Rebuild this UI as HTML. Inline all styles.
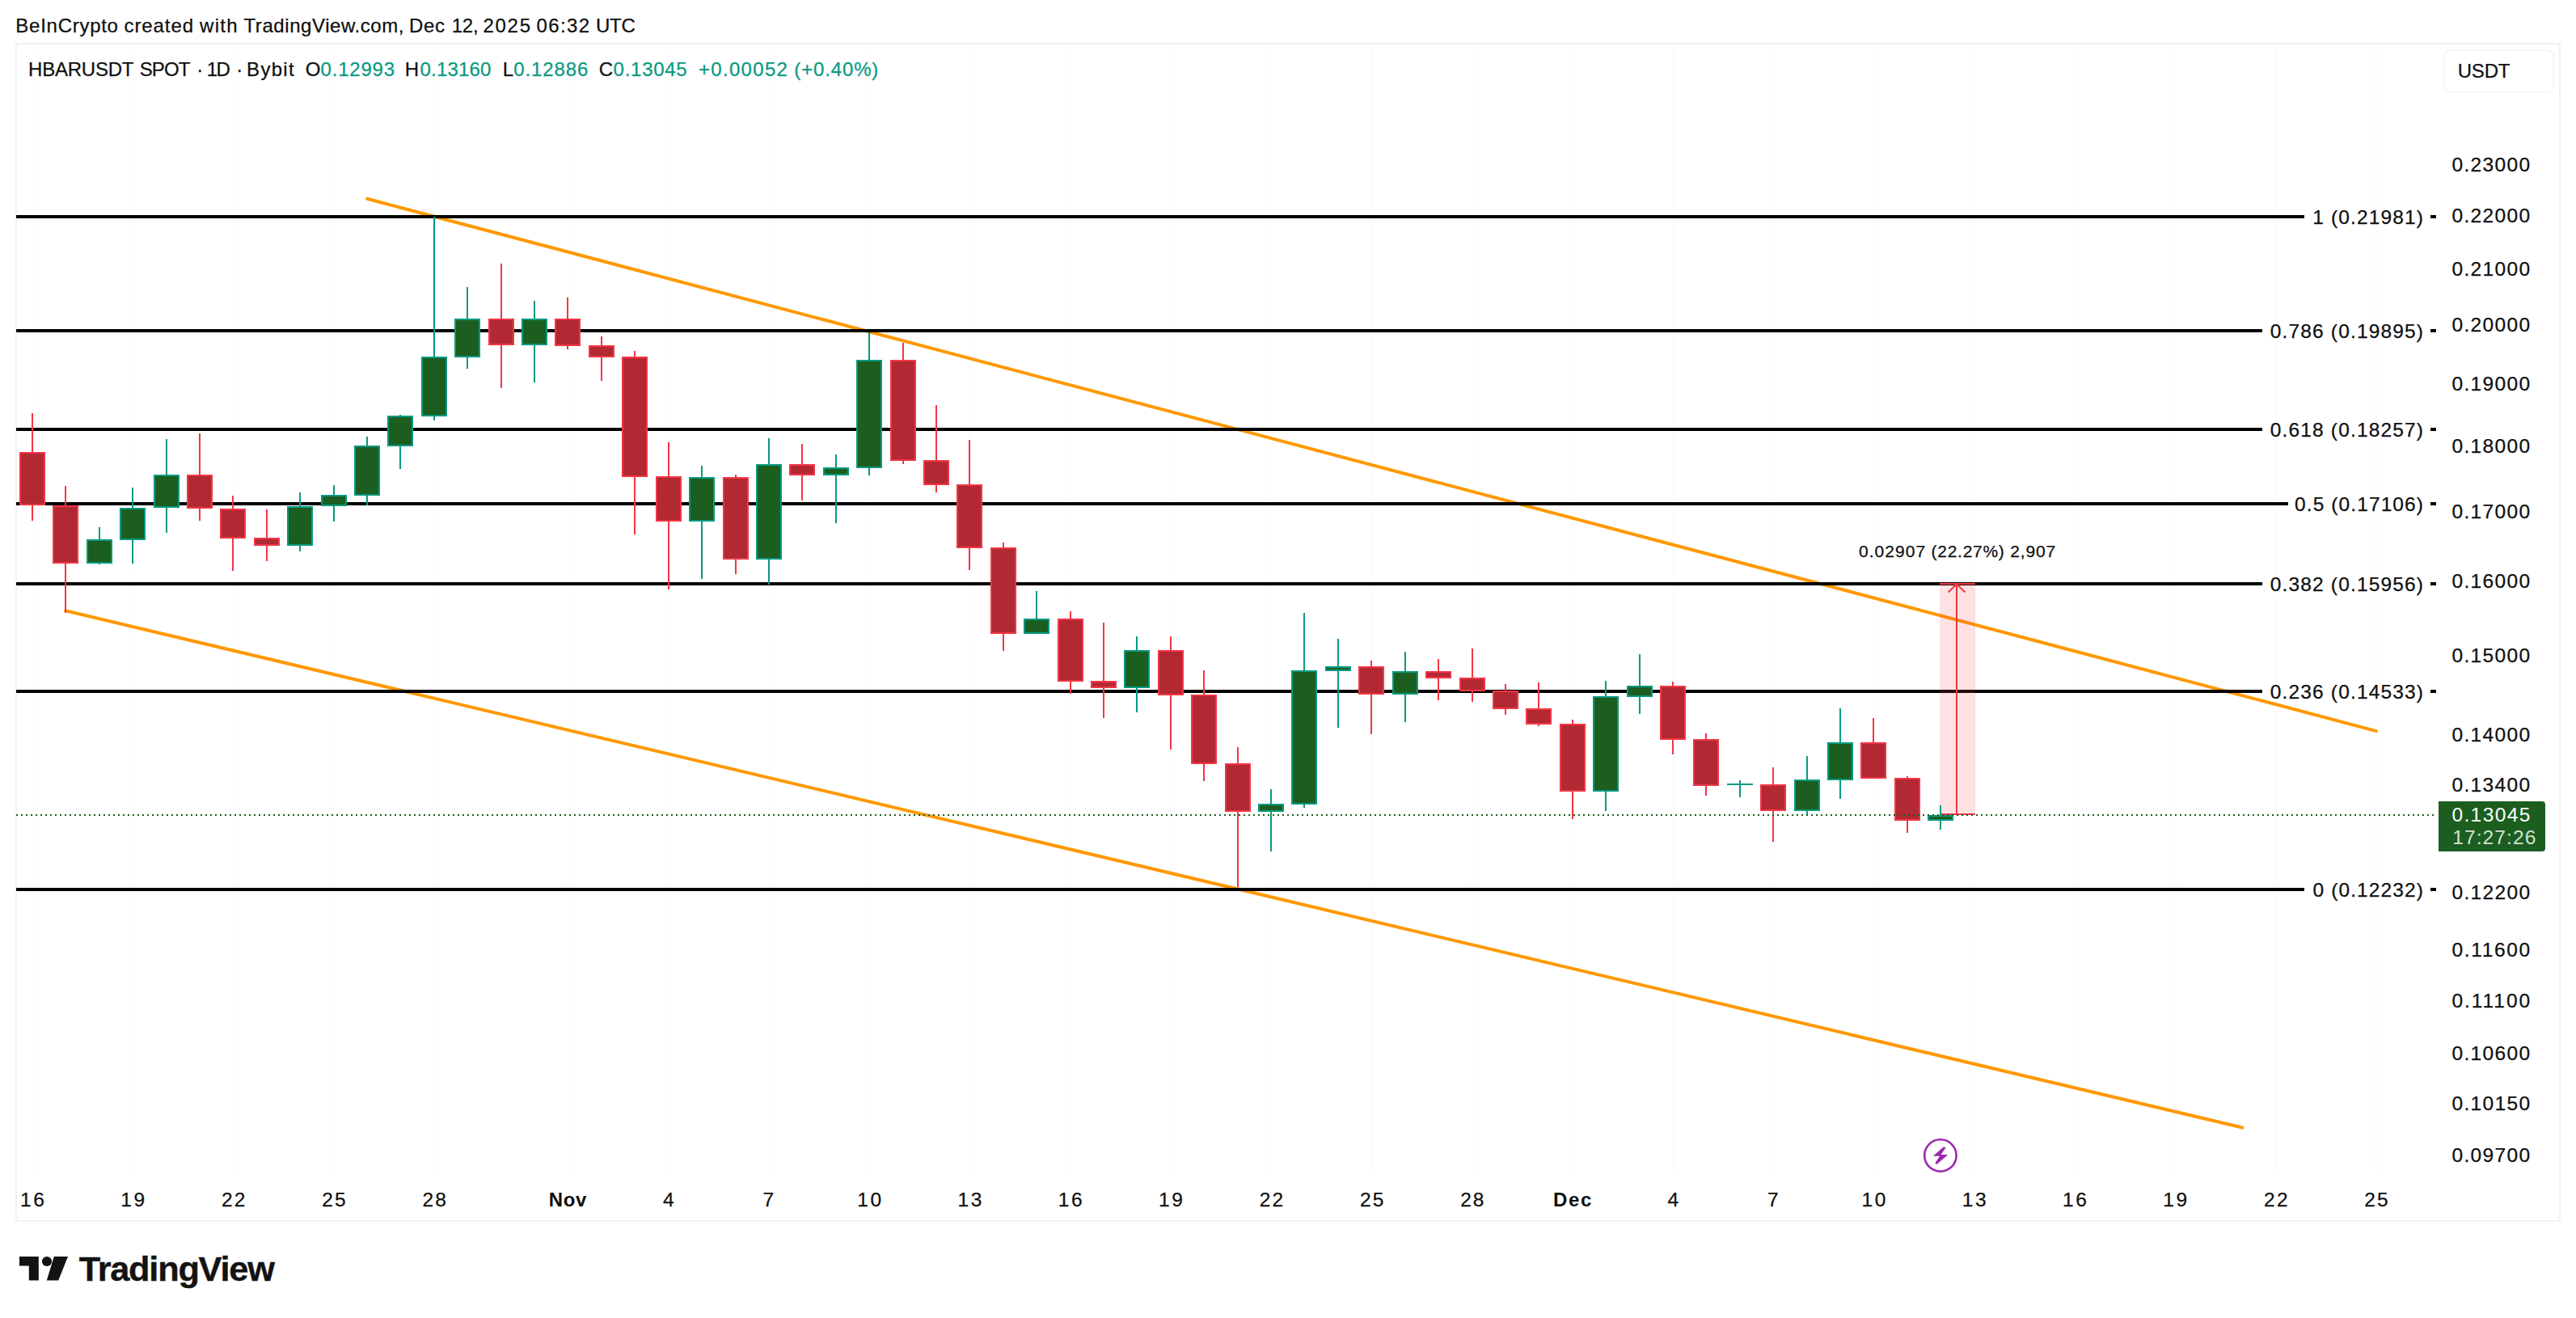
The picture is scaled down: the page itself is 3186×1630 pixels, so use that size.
<!DOCTYPE html>
<html lang="en"><head><meta charset="utf-8"><title>HBARUSDT chart</title>
<style>html,body{margin:0;padding:0;background:#fff}body{width:3186px;height:1630px;overflow:hidden}svg{display:block}text{white-space:pre}</style>
</head><body>
<svg width="3186" height="1630" viewBox="0 0 3186 1630" font-family='"Liberation Sans", sans-serif'>
<rect x="20" y="54" width="3146" height="1456" fill="#fff" stroke="#f2f2f2" stroke-width="2"/>
<rect x="39.4" y="55" width="2" height="1397" fill="#fcfcfc"/>
<rect x="163.6" y="55" width="2" height="1397" fill="#fcfcfc"/>
<rect x="287.9" y="55" width="2" height="1397" fill="#fcfcfc"/>
<rect x="412.1" y="55" width="2" height="1397" fill="#fcfcfc"/>
<rect x="536.3" y="55" width="2" height="1397" fill="#fcfcfc"/>
<rect x="702.0" y="55" width="2" height="1397" fill="#fcfcfc"/>
<rect x="826.2" y="55" width="2" height="1397" fill="#fcfcfc"/>
<rect x="950.4" y="55" width="2" height="1397" fill="#fcfcfc"/>
<rect x="1074.7" y="55" width="2" height="1397" fill="#fcfcfc"/>
<rect x="1198.9" y="55" width="2" height="1397" fill="#fcfcfc"/>
<rect x="1323.1" y="55" width="2" height="1397" fill="#fcfcfc"/>
<rect x="1447.3" y="55" width="2" height="1397" fill="#fcfcfc"/>
<rect x="1571.6" y="55" width="2" height="1397" fill="#fcfcfc"/>
<rect x="1695.8" y="55" width="2" height="1397" fill="#fcfcfc"/>
<rect x="1820.0" y="55" width="2" height="1397" fill="#fcfcfc"/>
<rect x="1944.3" y="55" width="2" height="1397" fill="#fcfcfc"/>
<rect x="2068.5" y="55" width="2" height="1397" fill="#fcfcfc"/>
<rect x="2192.7" y="55" width="2" height="1397" fill="#fcfcfc"/>
<rect x="2316.9" y="55" width="2" height="1397" fill="#fcfcfc"/>
<rect x="2441.2" y="55" width="2" height="1397" fill="#fcfcfc"/>
<rect x="2565.4" y="55" width="2" height="1397" fill="#fcfcfc"/>
<rect x="2689.6" y="55" width="2" height="1397" fill="#fcfcfc"/>
<rect x="2813.9" y="55" width="2" height="1397" fill="#fcfcfc"/>
<rect x="2938.1" y="55" width="2" height="1397" fill="#fcfcfc"/>
<line x1="454" y1="245.8" x2="2939" y2="904.1" stroke="#ff9800" stroke-width="4" stroke-linecap="round"/>
<line x1="81" y1="755.3" x2="2773.2" y2="1394.5" stroke="#ff9800" stroke-width="4" stroke-linecap="round"/>
<rect x="20" y="266" width="2830" height="4" fill="#000"/>
<rect x="3006" y="266" width="7" height="4" fill="#000"/>
<rect x="20" y="407" width="2778" height="4" fill="#000"/>
<rect x="3006" y="407" width="7" height="4" fill="#000"/>
<rect x="20" y="529" width="2778" height="4" fill="#000"/>
<rect x="3006" y="529" width="7" height="4" fill="#000"/>
<rect x="20" y="621" width="2810" height="4" fill="#000"/>
<rect x="3006" y="621" width="7" height="4" fill="#000"/>
<rect x="20" y="720" width="2778" height="4" fill="#000"/>
<rect x="3006" y="720" width="7" height="4" fill="#000"/>
<rect x="20" y="853" width="2778" height="4" fill="#000"/>
<rect x="3006" y="853" width="7" height="4" fill="#000"/>
<rect x="20" y="1098" width="2830" height="4" fill="#000"/>
<rect x="3006" y="1098" width="7" height="4" fill="#000"/>
<rect x="2399" y="722" width="44" height="285" fill="#f23645" fill-opacity="0.15"/>
<rect x="2399" y="721" width="44" height="2" fill="#f23645"/>
<rect x="2401" y="1006" width="42" height="2" fill="#f23645"/>
<rect x="2419" y="722" width="2" height="285" fill="#f23645"/>
<path d="M2409.5 732.5 L2420 722.5 L2430.5 732.5" fill="none" stroke="#f23645" stroke-width="2"/>
<rect x="39" y="511" width="2" height="133" fill="#f23645"/>
<rect x="25" y="560" width="30" height="64" fill="#b22833" stroke="#f23645" stroke-width="2"/>
<rect x="80" y="601" width="2" height="157" fill="#f23645"/>
<rect x="66" y="626" width="30" height="70" fill="#b22833" stroke="#f23645" stroke-width="2"/>
<rect x="122" y="652" width="2" height="46" fill="#089981"/>
<rect x="108" y="668" width="30" height="28" fill="#1b5e20" stroke="#089981" stroke-width="2"/>
<rect x="163" y="603" width="2" height="94" fill="#089981"/>
<rect x="149" y="629" width="30" height="38" fill="#1b5e20" stroke="#089981" stroke-width="2"/>
<rect x="205" y="543" width="2" height="116" fill="#089981"/>
<rect x="191" y="588" width="30" height="39" fill="#1b5e20" stroke="#089981" stroke-width="2"/>
<rect x="246" y="536" width="2" height="108" fill="#f23645"/>
<rect x="232" y="588" width="30" height="40" fill="#b22833" stroke="#f23645" stroke-width="2"/>
<rect x="287" y="613" width="2" height="93" fill="#f23645"/>
<rect x="273" y="630" width="30" height="35" fill="#b22833" stroke="#f23645" stroke-width="2"/>
<rect x="329" y="630" width="2" height="64" fill="#f23645"/>
<rect x="315" y="666" width="30" height="8" fill="#b22833" stroke="#f23645" stroke-width="2"/>
<rect x="370" y="609" width="2" height="73" fill="#089981"/>
<rect x="356" y="627" width="30" height="47" fill="#1b5e20" stroke="#089981" stroke-width="2"/>
<rect x="412" y="600" width="2" height="45" fill="#089981"/>
<rect x="398" y="613" width="30" height="12" fill="#1b5e20" stroke="#089981" stroke-width="2"/>
<rect x="453" y="540" width="2" height="85" fill="#089981"/>
<rect x="439" y="552" width="30" height="60" fill="#1b5e20" stroke="#089981" stroke-width="2"/>
<rect x="494" y="513" width="2" height="67" fill="#089981"/>
<rect x="480" y="515" width="30" height="36" fill="#1b5e20" stroke="#089981" stroke-width="2"/>
<rect x="536" y="268" width="2" height="252" fill="#089981"/>
<rect x="522" y="442" width="30" height="72" fill="#1b5e20" stroke="#089981" stroke-width="2"/>
<rect x="577" y="355" width="2" height="101" fill="#089981"/>
<rect x="563" y="395" width="30" height="46" fill="#1b5e20" stroke="#089981" stroke-width="2"/>
<rect x="619" y="326" width="2" height="154" fill="#f23645"/>
<rect x="605" y="395" width="30" height="31" fill="#b22833" stroke="#f23645" stroke-width="2"/>
<rect x="660" y="372" width="2" height="101" fill="#089981"/>
<rect x="646" y="395" width="30" height="31" fill="#1b5e20" stroke="#089981" stroke-width="2"/>
<rect x="701" y="368" width="2" height="64" fill="#f23645"/>
<rect x="687" y="395" width="30" height="32" fill="#b22833" stroke="#f23645" stroke-width="2"/>
<rect x="743" y="416" width="2" height="55" fill="#f23645"/>
<rect x="729" y="428" width="30" height="13" fill="#b22833" stroke="#f23645" stroke-width="2"/>
<rect x="784" y="434" width="2" height="227" fill="#f23645"/>
<rect x="770" y="442" width="30" height="147" fill="#b22833" stroke="#f23645" stroke-width="2"/>
<rect x="826" y="547" width="2" height="182" fill="#f23645"/>
<rect x="812" y="590" width="30" height="54" fill="#b22833" stroke="#f23645" stroke-width="2"/>
<rect x="867" y="576" width="2" height="140" fill="#089981"/>
<rect x="853" y="591" width="30" height="53" fill="#1b5e20" stroke="#089981" stroke-width="2"/>
<rect x="909" y="587" width="2" height="123" fill="#f23645"/>
<rect x="895" y="591" width="30" height="100" fill="#b22833" stroke="#f23645" stroke-width="2"/>
<rect x="950" y="542" width="2" height="181" fill="#089981"/>
<rect x="936" y="575" width="30" height="116" fill="#1b5e20" stroke="#089981" stroke-width="2"/>
<rect x="991" y="549" width="2" height="70" fill="#f23645"/>
<rect x="977" y="575" width="30" height="12" fill="#b22833" stroke="#f23645" stroke-width="2"/>
<rect x="1033" y="562" width="2" height="85" fill="#089981"/>
<rect x="1019" y="579" width="30" height="8" fill="#1b5e20" stroke="#089981" stroke-width="2"/>
<rect x="1074" y="411" width="2" height="177" fill="#089981"/>
<rect x="1060" y="446" width="30" height="132" fill="#1b5e20" stroke="#089981" stroke-width="2"/>
<rect x="1116" y="424" width="2" height="150" fill="#f23645"/>
<rect x="1102" y="446" width="30" height="123" fill="#b22833" stroke="#f23645" stroke-width="2"/>
<rect x="1157" y="501" width="2" height="108" fill="#f23645"/>
<rect x="1143" y="570" width="30" height="29" fill="#b22833" stroke="#f23645" stroke-width="2"/>
<rect x="1198" y="544" width="2" height="161" fill="#f23645"/>
<rect x="1184" y="600" width="30" height="77" fill="#b22833" stroke="#f23645" stroke-width="2"/>
<rect x="1240" y="671" width="2" height="134" fill="#f23645"/>
<rect x="1226" y="678" width="30" height="105" fill="#b22833" stroke="#f23645" stroke-width="2"/>
<rect x="1281" y="731" width="2" height="53" fill="#089981"/>
<rect x="1267" y="766" width="30" height="17" fill="#1b5e20" stroke="#089981" stroke-width="2"/>
<rect x="1323" y="756" width="2" height="102" fill="#f23645"/>
<rect x="1309" y="766" width="30" height="76" fill="#b22833" stroke="#f23645" stroke-width="2"/>
<rect x="1364" y="770" width="2" height="118" fill="#f23645"/>
<rect x="1350" y="843" width="30" height="7" fill="#b22833" stroke="#f23645" stroke-width="2"/>
<rect x="1405" y="787" width="2" height="94" fill="#089981"/>
<rect x="1391" y="805" width="30" height="45" fill="#1b5e20" stroke="#089981" stroke-width="2"/>
<rect x="1447" y="787" width="2" height="140" fill="#f23645"/>
<rect x="1433" y="805" width="30" height="54" fill="#b22833" stroke="#f23645" stroke-width="2"/>
<rect x="1488" y="829" width="2" height="137" fill="#f23645"/>
<rect x="1474" y="860" width="30" height="84" fill="#b22833" stroke="#f23645" stroke-width="2"/>
<rect x="1530" y="924" width="2" height="173" fill="#f23645"/>
<rect x="1516" y="945" width="30" height="58" fill="#b22833" stroke="#f23645" stroke-width="2"/>
<rect x="1571" y="976" width="2" height="77" fill="#089981"/>
<rect x="1557" y="995" width="30" height="8" fill="#1b5e20" stroke="#089981" stroke-width="2"/>
<rect x="1612" y="758" width="2" height="241" fill="#089981"/>
<rect x="1598" y="830" width="30" height="164" fill="#1b5e20" stroke="#089981" stroke-width="2"/>
<rect x="1654" y="790" width="2" height="110" fill="#089981"/>
<rect x="1640" y="825" width="30" height="4" fill="#1b5e20" stroke="#089981" stroke-width="2"/>
<rect x="1695" y="817" width="2" height="91" fill="#f23645"/>
<rect x="1681" y="825" width="30" height="33" fill="#b22833" stroke="#f23645" stroke-width="2"/>
<rect x="1737" y="806" width="2" height="87" fill="#089981"/>
<rect x="1723" y="831" width="30" height="27" fill="#1b5e20" stroke="#089981" stroke-width="2"/>
<rect x="1778" y="815" width="2" height="51" fill="#f23645"/>
<rect x="1764" y="831" width="30" height="7" fill="#b22833" stroke="#f23645" stroke-width="2"/>
<rect x="1820" y="802" width="2" height="66" fill="#f23645"/>
<rect x="1806" y="839" width="30" height="15" fill="#b22833" stroke="#f23645" stroke-width="2"/>
<rect x="1861" y="846" width="2" height="38" fill="#f23645"/>
<rect x="1847" y="855" width="30" height="21" fill="#b22833" stroke="#f23645" stroke-width="2"/>
<rect x="1902" y="844" width="2" height="54" fill="#f23645"/>
<rect x="1888" y="877" width="30" height="18" fill="#b22833" stroke="#f23645" stroke-width="2"/>
<rect x="1944" y="890" width="2" height="123" fill="#f23645"/>
<rect x="1930" y="896" width="30" height="82" fill="#b22833" stroke="#f23645" stroke-width="2"/>
<rect x="1985" y="842" width="2" height="161" fill="#089981"/>
<rect x="1971" y="862" width="30" height="116" fill="#1b5e20" stroke="#089981" stroke-width="2"/>
<rect x="2027" y="809" width="2" height="74" fill="#089981"/>
<rect x="2013" y="849" width="30" height="12" fill="#1b5e20" stroke="#089981" stroke-width="2"/>
<rect x="2068" y="843" width="2" height="90" fill="#f23645"/>
<rect x="2054" y="849" width="30" height="65" fill="#b22833" stroke="#f23645" stroke-width="2"/>
<rect x="2109" y="907" width="2" height="77" fill="#f23645"/>
<rect x="2095" y="915" width="30" height="56" fill="#b22833" stroke="#f23645" stroke-width="2"/>
<rect x="2151" y="965" width="2" height="21" fill="#089981"/>
<rect x="2136" y="969" width="32" height="2" fill="#089981"/>
<rect x="2192" y="949" width="2" height="92" fill="#f23645"/>
<rect x="2178" y="971" width="30" height="31" fill="#b22833" stroke="#f23645" stroke-width="2"/>
<rect x="2234" y="935" width="2" height="73" fill="#089981"/>
<rect x="2220" y="965" width="30" height="37" fill="#1b5e20" stroke="#089981" stroke-width="2"/>
<rect x="2275" y="876" width="2" height="112" fill="#089981"/>
<rect x="2261" y="919" width="30" height="45" fill="#1b5e20" stroke="#089981" stroke-width="2"/>
<rect x="2316" y="888" width="2" height="75" fill="#f23645"/>
<rect x="2302" y="919" width="30" height="43" fill="#b22833" stroke="#f23645" stroke-width="2"/>
<rect x="2358" y="960" width="2" height="70" fill="#f23645"/>
<rect x="2344" y="963" width="30" height="51" fill="#b22833" stroke="#f23645" stroke-width="2"/>
<rect x="2399" y="996" width="2" height="30" fill="#089981"/>
<rect x="2385" y="1009" width="30" height="5" fill="#1b5e20" stroke="#089981" stroke-width="2"/>
<line x1="20" y1="1008" x2="3012" y2="1008" stroke="#1b5e20" stroke-width="2" stroke-dasharray="2 4"/>
<text x="2860.20" y="276.60" font-size="24.5" fill="#0f0f0f" letter-spacing="1.150" stroke="#0f0f0f" stroke-width="0.25">1 (0.21981)</text>
<text x="2807.80" y="417.60" font-size="24.5" fill="#0f0f0f" letter-spacing="1.157" stroke="#0f0f0f" stroke-width="0.25">0.786 (0.19895)</text>
<text x="2807.80" y="539.60" font-size="24.5" fill="#0f0f0f" letter-spacing="1.157" stroke="#0f0f0f" stroke-width="0.25">0.618 (0.18257)</text>
<text x="2838.10" y="631.60" font-size="24.5" fill="#0f0f0f" letter-spacing="1.092" stroke="#0f0f0f" stroke-width="0.25">0.5 (0.17106)</text>
<text x="2807.80" y="730.60" font-size="24.5" fill="#0f0f0f" letter-spacing="1.157" stroke="#0f0f0f" stroke-width="0.25">0.382 (0.15956)</text>
<text x="2807.80" y="863.60" font-size="24.5" fill="#0f0f0f" letter-spacing="1.157" stroke="#0f0f0f" stroke-width="0.25">0.236 (0.14533)</text>
<text x="2860.50" y="1108.60" font-size="24.5" fill="#0f0f0f" letter-spacing="1.120" stroke="#0f0f0f" stroke-width="0.25">0 (0.12232)</text>
<text x="3032.40" y="211.88" font-size="24.5" fill="#0f0f0f" letter-spacing="1.383" stroke="#0f0f0f" stroke-width="0.25">0.23000</text>
<text x="3032.40" y="274.97" font-size="24.5" fill="#0f0f0f" letter-spacing="1.383" stroke="#0f0f0f" stroke-width="0.25">0.22000</text>
<text x="3032.40" y="341.00" font-size="24.5" fill="#0f0f0f" letter-spacing="1.383" stroke="#0f0f0f" stroke-width="0.25">0.21000</text>
<text x="3032.40" y="410.26" font-size="24.5" fill="#0f0f0f" letter-spacing="1.383" stroke="#0f0f0f" stroke-width="0.25">0.20000</text>
<text x="3032.40" y="483.06" font-size="24.5" fill="#0f0f0f" letter-spacing="1.383" stroke="#0f0f0f" stroke-width="0.25">0.19000</text>
<text x="3032.40" y="559.81" font-size="24.5" fill="#0f0f0f" letter-spacing="1.383" stroke="#0f0f0f" stroke-width="0.25">0.18000</text>
<text x="3032.40" y="640.94" font-size="24.5" fill="#0f0f0f" letter-spacing="1.383" stroke="#0f0f0f" stroke-width="0.25">0.17000</text>
<text x="3032.40" y="726.99" font-size="24.5" fill="#0f0f0f" letter-spacing="1.383" stroke="#0f0f0f" stroke-width="0.25">0.16000</text>
<text x="3032.40" y="818.59" font-size="24.5" fill="#0f0f0f" letter-spacing="1.383" stroke="#0f0f0f" stroke-width="0.25">0.15000</text>
<text x="3032.40" y="916.52" font-size="24.5" fill="#0f0f0f" letter-spacing="1.383" stroke="#0f0f0f" stroke-width="0.25">0.14000</text>
<text x="3032.40" y="978.69" font-size="24.5" fill="#0f0f0f" letter-spacing="1.383" stroke="#0f0f0f" stroke-width="0.25">0.13400</text>
<text x="3032.40" y="1111.86" font-size="24.5" fill="#0f0f0f" letter-spacing="1.383" stroke="#0f0f0f" stroke-width="0.25">0.12200</text>
<text x="3032.40" y="1183.44" font-size="24.5" fill="#0f0f0f" letter-spacing="1.683" stroke="#0f0f0f" stroke-width="0.25">0.11600</text>
<text x="3032.40" y="1245.98" font-size="24.5" fill="#0f0f0f" letter-spacing="1.983" stroke="#0f0f0f" stroke-width="0.25">0.11100</text>
<text x="3032.40" y="1311.40" font-size="24.5" fill="#0f0f0f" letter-spacing="1.383" stroke="#0f0f0f" stroke-width="0.25">0.10600</text>
<text x="3032.40" y="1372.98" font-size="24.5" fill="#0f0f0f" letter-spacing="1.383" stroke="#0f0f0f" stroke-width="0.25">0.10150</text>
<text x="3032.40" y="1437.34" font-size="24.5" fill="#0f0f0f" letter-spacing="1.383" stroke="#0f0f0f" stroke-width="0.25">0.09700</text>
<path d="M3016 991 H3144 a4 4 0 0 1 4 4 V1049 a4 4 0 0 1 -4 4 H3016 Z" fill="#1b5e20"/>
<text x="3032.40" y="1016.00" font-size="24.5" fill="#fff" letter-spacing="1.400">0.13045</text>
<text x="3033.20" y="1044.20" font-size="24.5" fill="#d2e0d3" letter-spacing="1.114">17:27:26</text>
<rect x="3022.3" y="62" width="136" height="51.8" rx="8.5" fill="#fff" stroke="#f4f4f4" stroke-width="1.8"/>
<text x="3039.70" y="95.80" font-size="24" fill="#0f0f0f" letter-spacing="-0.200" stroke="#0f0f0f" stroke-width="0.25">USDT</text>
<text x="25.00" y="1492.20" font-size="24.5" fill="#0f0f0f" letter-spacing="2.600" stroke="#0f0f0f" stroke-width="0.25">16</text>
<text x="149.23" y="1492.20" font-size="24.5" fill="#0f0f0f" letter-spacing="2.700" stroke="#0f0f0f" stroke-width="0.25">19</text>
<text x="274.06" y="1492.20" font-size="24.5" fill="#0f0f0f" letter-spacing="2.200" stroke="#0f0f0f" stroke-width="0.25">22</text>
<text x="398.29" y="1492.20" font-size="24.5" fill="#0f0f0f" letter-spacing="2.000" stroke="#0f0f0f" stroke-width="0.25">25</text>
<text x="522.52" y="1492.20" font-size="24.5" fill="#0f0f0f" letter-spacing="2.000" stroke="#0f0f0f" stroke-width="0.25">28</text>
<text x="678.76" y="1492.00" font-size="24" fill="#0f0f0f" letter-spacing="0.650" font-weight="bold">Nov</text>
<text x="820.09" y="1492.20" font-size="24.5" fill="#0f0f0f" letter-spacing="0.000" stroke="#0f0f0f" stroke-width="0.25">4</text>
<text x="943.62" y="1492.20" font-size="24.5" fill="#0f0f0f" letter-spacing="0.000" stroke="#0f0f0f" stroke-width="0.25">7</text>
<text x="1060.25" y="1492.20" font-size="24.5" fill="#0f0f0f" letter-spacing="2.500" stroke="#0f0f0f" stroke-width="0.25">10</text>
<text x="1184.48" y="1492.20" font-size="24.5" fill="#0f0f0f" letter-spacing="2.600" stroke="#0f0f0f" stroke-width="0.25">13</text>
<text x="1308.71" y="1492.20" font-size="24.5" fill="#0f0f0f" letter-spacing="2.600" stroke="#0f0f0f" stroke-width="0.25">16</text>
<text x="1432.94" y="1492.20" font-size="24.5" fill="#0f0f0f" letter-spacing="2.700" stroke="#0f0f0f" stroke-width="0.25">19</text>
<text x="1557.77" y="1492.20" font-size="24.5" fill="#0f0f0f" letter-spacing="2.200" stroke="#0f0f0f" stroke-width="0.25">22</text>
<text x="1682.00" y="1492.20" font-size="24.5" fill="#0f0f0f" letter-spacing="2.000" stroke="#0f0f0f" stroke-width="0.25">25</text>
<text x="1806.23" y="1492.20" font-size="24.5" fill="#0f0f0f" letter-spacing="2.000" stroke="#0f0f0f" stroke-width="0.25">28</text>
<text x="1921.06" y="1492.00" font-size="24" fill="#0f0f0f" letter-spacing="1.600" font-weight="bold">Dec</text>
<text x="2062.39" y="1492.20" font-size="24.5" fill="#0f0f0f" letter-spacing="0.000" stroke="#0f0f0f" stroke-width="0.25">4</text>
<text x="2185.92" y="1492.20" font-size="24.5" fill="#0f0f0f" letter-spacing="0.000" stroke="#0f0f0f" stroke-width="0.25">7</text>
<text x="2302.55" y="1492.20" font-size="24.5" fill="#0f0f0f" letter-spacing="2.500" stroke="#0f0f0f" stroke-width="0.25">10</text>
<text x="2426.78" y="1492.20" font-size="24.5" fill="#0f0f0f" letter-spacing="2.600" stroke="#0f0f0f" stroke-width="0.25">13</text>
<text x="2551.01" y="1492.20" font-size="24.5" fill="#0f0f0f" letter-spacing="2.600" stroke="#0f0f0f" stroke-width="0.25">16</text>
<text x="2675.24" y="1492.20" font-size="24.5" fill="#0f0f0f" letter-spacing="2.700" stroke="#0f0f0f" stroke-width="0.25">19</text>
<text x="2800.07" y="1492.20" font-size="24.5" fill="#0f0f0f" letter-spacing="2.200" stroke="#0f0f0f" stroke-width="0.25">22</text>
<text x="2924.30" y="1492.20" font-size="24.5" fill="#0f0f0f" letter-spacing="2.000" stroke="#0f0f0f" stroke-width="0.25">25</text>
<circle cx="2399.9" cy="1429" r="19.7" fill="none" stroke="#9c27b0" stroke-width="2.6"/>
<path d="M2404.1 1418.2 L2406.6 1419.3 L2400.5 1427.9 L2408.8 1428 L2408.8 1428.6 L2395.3 1440 L2393.3 1438.6 L2399.1 1429.8 L2391 1429.8 L2391 1429.4 Z" fill="#9c27b0"/>
<text y="40.00" font-size="24" fill="#0f0f0f" stroke="#0f0f0f" stroke-width="0.25"><tspan x="19.35" letter-spacing="0.728">BeInCrypto</tspan> <tspan x="153.50" letter-spacing="0.917">created</tspan> <tspan x="247.10" letter-spacing="1.267">with</tspan> <tspan x="301.50" letter-spacing="0.573">TradingView.com,</tspan> <tspan x="506.10" letter-spacing="0.650">Dec</tspan> <tspan x="558.70" letter-spacing="-0.250">12,</tspan> <tspan x="597.55" letter-spacing="1.683">2025</tspan> <tspan x="663.60" letter-spacing="1.375">06:32</tspan> <tspan x="736.95" letter-spacing="-0.225">UTC</tspan></text>
<text y="93.75" font-size="24" fill="#0f0f0f" stroke="#0f0f0f" stroke-width="0.25"><tspan x="35.10" letter-spacing="-0.243">HBARUSDT</tspan> <tspan x="172.75" letter-spacing="-0.883">SPOT</tspan> <tspan x="243.20" letter-spacing="0.000">·</tspan> <tspan x="255.70" letter-spacing="-1.450">1D</tspan> <tspan x="292.20" letter-spacing="0.000">·</tspan> <tspan x="305.10" letter-spacing="1.300">Bybit</tspan></text>
<text y="93.75" font-size="24" fill="#0f0f0f" stroke="#0f0f0f" stroke-width="0.25"><tspan x="377.65" letter-spacing="0.000">O</tspan> <tspan x="396.60" letter-spacing="0.783" fill="#089981" stroke="#089981">0.12993</tspan> <tspan x="500.85" letter-spacing="0.000">H</tspan> <tspan x="519.60" letter-spacing="0.167" fill="#089981" stroke="#089981">0.13160</tspan> <tspan x="621.85" letter-spacing="0.000">L</tspan> <tspan x="635.35" letter-spacing="0.867" fill="#089981" stroke="#089981">0.12886</tspan> <tspan x="740.80" letter-spacing="0.000">C</tspan> <tspan x="758.60" letter-spacing="0.725" fill="#089981" stroke="#089981">0.13045</tspan> <tspan x="863.90" letter-spacing="1.321" fill="#089981" stroke="#089981">+0.00052</tspan> <tspan x="982.35" letter-spacing="0.850" fill="#089981" stroke="#089981">(+0.40%)</tspan></text>
<text y="688.90" font-size="21" fill="#0f0f0f" stroke="#0f0f0f" stroke-width="0.25"><tspan x="2299.00" letter-spacing="1.033">0.02907</tspan> <tspan x="2388.60" letter-spacing="0.714">(22.27%)</tspan> <tspan x="2486.30" letter-spacing="0.850">2,907</tspan></text>
<path d="M24 1554 H47.8 V1583.6 H35.8 V1565.6 H24 Z" fill="#131313"/>
<circle cx="58" cy="1560" r="6.1" fill="#131313"/>
<path d="M66.8 1554 H84.05 L72.2 1583.6 H57.8 Z" fill="#131313"/>
<text x="97.80" y="1583.70" font-size="43.3" fill="#131313" letter-spacing="-1.220" font-weight="bold" stroke="#131313" stroke-width="0.4">TradingView</text>
</svg>
</body></html>
